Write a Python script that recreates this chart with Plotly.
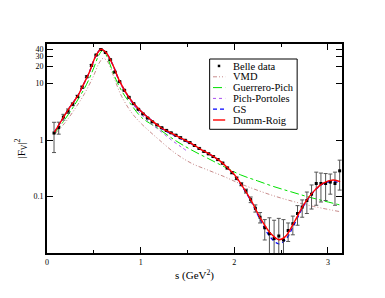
import plotly.graph_objects as go

# ---------------- data ----------------
belle_s = [0.075, 0.125, 0.175, 0.225, 0.275, 0.325, 0.375, 0.425, 0.475, 0.525,
           0.575, 0.625, 0.675, 0.725, 0.775, 0.825, 0.875, 0.925, 0.975, 1.025,
           1.075, 1.125, 1.175, 1.225, 1.275, 1.325, 1.375, 1.425, 1.475, 1.525,
           1.575, 1.625, 1.675, 1.725, 1.775, 1.825, 1.875, 1.925, 1.975, 2.025,
           2.075, 2.125, 2.175, 2.225, 2.275, 2.325, 2.375, 2.425, 2.475, 2.525,
           2.575, 2.625, 2.675, 2.725, 2.775, 2.825, 2.875, 2.925, 2.975, 3.025,
           3.075, 3.125]
belle_f2 = [1.33, 1.67, 2.55, 3.25, 4.3, 5.9, 8.6, 13.2, 21.0, 32.0,
            40.0, 35.5, 26.5, 16.0, 10.8, 7.6, 5.7, 4.4, 3.5, 2.9,
            2.45, 2.1, 1.85, 1.65, 1.48, 1.34, 1.22, 1.1, 0.99, 0.9,
            0.8, 0.71, 0.63, 0.57, 0.51, 0.45, 0.39, 0.32, 0.265, 0.21,
            0.165, 0.125, 0.088, 0.062, 0.043, 0.028, 0.022, 0.018, 0.02, 0.017,
            0.025, 0.033, 0.05, 0.065, 0.085, 0.11, 0.17, 0.17, 0.17, 0.18,
            0.17, 0.285]
belle_err = [0.73, 0.4, 0.3, 0.3, 0.25, 0.3, 0.4, 0.5, 0.7, 0.9,
             1.0, 0.9, 0.7, 0.4, 0.25, 0.18, 0.13, 0.1, 0.08, 0.06,
             0.05, 0.045, 0.04, 0.035, 0.03, 0.03, 0.03, 0.03, 0.025, 0.025,
             0.02, 0.02, 0.02, 0.018, 0.016, 0.015, 0.014, 0.012, 0.012, 0.011,
             0.01, 0.01, 0.01, 0.009, 0.009, 0.011, 0.02, 0.02, 0.021, 0.022,
             0.009, 0.012, 0.019, 0.022, 0.035, 0.05, 0.1, 0.09, 0.085, 0.07,
             0.1, 0.155]

vmd_s = [0.08, 0.2, 0.3, 0.4, 0.5, 0.55, 0.6, 0.65, 0.7, 0.75, 0.8, 0.9, 1.0, 1.1,
         1.2, 1.36, 1.54, 1.716, 1.892, 2.069, 2.42, 2.775, 3.127]
vmd_f2 = [1.25, 2.1, 3.6, 6.6, 14.0, 22.0, 28.0, 24.0, 15.0, 9.0, 5.8, 3.1, 2.0, 1.4,
          1.0, 0.6, 0.39, 0.295, 0.225, 0.167, 0.103, 0.071, 0.054]

gp_s = [0.08, 0.26, 0.42, 0.5, 0.55, 0.595, 0.64, 0.7, 0.75, 0.806, 0.9, 1.011, 1.187,
        1.363, 1.54, 1.716, 1.892, 2.069, 2.245, 2.421, 2.6, 2.775, 2.95, 3.127]
gp_f2 = [1.3, 3.4, 9.5, 19.0, 31.0, 38.5, 30.0, 16.5, 10.5, 7.0, 4.2, 2.5, 1.6,
         1.0, 0.67, 0.475, 0.337, 0.241, 0.19, 0.15, 0.122, 0.1, 0.084, 0.071]

pp_s = [0.08, 0.15, 0.24, 0.33, 0.38, 0.45, 0.52, 0.577, 0.63, 0.7, 0.77, 0.875, 0.965,
        1.05, 1.12, 1.22, 1.33, 1.43, 1.5]
pp_f2 = [1.38, 2.15, 3.75, 6.1, 9.0, 15.5, 30.5, 40.5, 35.0, 21.5, 11.0, 5.4, 3.4,
         2.4, 1.9, 1.4, 1.0, 0.76, 0.63]

gs_s = [0.08, 0.15, 0.24, 0.33, 0.38, 0.45, 0.52, 0.577, 0.63, 0.7, 0.77, 0.875, 0.965,
        1.05, 1.12, 1.22, 1.33, 1.43, 1.54, 1.65, 1.75, 1.86, 1.93, 2.0, 2.07, 2.175,
        2.28, 2.385, 2.475, 2.545, 2.635, 2.74, 2.845, 2.95, 3.055, 3.13]
gs_f2 = [1.38, 2.15, 3.75, 6.1, 9.0, 15.5, 30.5, 40.5, 35.4, 22.0, 11.5, 5.7, 3.75,
         2.75, 2.2, 1.6, 1.28, 1.05, 0.86, 0.665, 0.54, 0.405, 0.315, 0.24, 0.163, 0.085,
         0.038, 0.019, 0.0145, 0.017, 0.031, 0.068, 0.12, 0.168, 0.185, 0.17]

dr_s = [0.08, 0.15, 0.24, 0.33, 0.38, 0.45, 0.52, 0.577, 0.63, 0.7, 0.77, 0.875, 0.965,
        1.05, 1.12, 1.22, 1.33, 1.43, 1.54, 1.65, 1.75, 1.86, 1.93, 2.0, 2.07, 2.175,
        2.28, 2.385, 2.475, 2.545, 2.635, 2.74, 2.845, 2.95, 3.055, 3.13]
dr_f2 = [1.38, 2.15, 3.75, 6.1, 9.0, 15.5, 30.5, 40.5, 35.4, 22.0, 11.5, 5.7, 3.75,
         2.75, 2.2, 1.65, 1.32, 1.08, 0.875, 0.67, 0.545, 0.41, 0.32, 0.245, 0.168, 0.088,
         0.041, 0.0225, 0.0172, 0.0195, 0.034, 0.071, 0.122, 0.172, 0.196, 0.183]

legend_names = ["Belle data", "VMD", "Guerrero-Pich", "Pich-Portoles", "GS", "Dumm-Roig"]

y_tickvals = [0.1, 1, 10, 20, 30, 40]
y_ticktext = ["0.1", "1", "10", "20", "30", "40"]
x_tickvals = [0, 1, 2, 3]

# ---------------- styles ----------------
SERIF = "Liberation Serif"
styles = {
    "VMD": dict(color="rgb(200,140,140)", width=1, dash="4px,2px,1px,2px,1px,2px"),
    "Guerrero-Pich": dict(color="rgb(0,225,0)", width=1, dash="dashdot"),
    "Pich-Portoles": dict(color="rgb(170,80,240)", width=1, dash="dot"),
    "GS": dict(color="rgb(0,0,255)", width=1.3, dash="4px,3px"),
    "Dumm-Roig": dict(color="rgb(255,0,0)", width=1.4),
}

fig = go.Figure()

curves = [("VMD", vmd_s, vmd_f2), ("Guerrero-Pich", gp_s, gp_f2),
          ("Pich-Portoles", pp_s, pp_f2), ("GS", gs_s, gs_f2)]
for name, xs, ys in curves:
    fig.add_trace(go.Scatter(x=xs, y=ys, mode="lines", name=name, showlegend=False,
                             line=dict(shape="spline", **styles[name])))

fig.add_trace(go.Scatter(x=belle_s, y=belle_f2, mode="markers", name="Belle data", showlegend=False,
                         marker=dict(color="black", size=3, symbol="square"),
                         error_y=dict(type="data", array=belle_err, color="#555555",
                                      thickness=1, width=2)))
fig.add_trace(go.Scatter(x=dr_s, y=dr_f2, mode="lines", name="Dumm-Roig", showlegend=False,
                         line=dict(shape="spline", **styles["Dumm-Roig"])))

# ---------------- axes ----------------
axis_common = dict(showline=True, linecolor="black", linewidth=2, mirror="ticks",
                   ticks="inside", tickcolor="black", tickwidth=1, showgrid=False,
                   zeroline=False, tickfont=dict(family=SERIF, size=8, color="black"))

fig.update_xaxes(range=[0, 3.15], tickvals=x_tickvals, ticklen=6,
                 minor=dict(dtick=0.5, ticks="inside", ticklen=3, tickcolor="black", tickwidth=1),
                 title=dict(text="s (GeV<sup>2</sup>)", font=dict(family=SERIF, size=11, color="black"),
                            standoff=6),
                 **axis_common)
fig.update_yaxes(type="log", range=[-2, 1.7], tickvals=y_tickvals, ticktext=y_ticktext, ticklen=6,
                 title=dict(text="|F<sub>V</sub>|<sup>2</sup>", font=dict(family=SERIF, size=11, color="black"),
                            standoff=6),
                 **axis_common)

# ---------------- hand-made legend (xmgrace style) ----------------
PL, PT, PW, PH = 44, 44, 298, 209   # plot area in reference pixels


def px2x(px):
    return (px - PL) / PW


def py2y(py):
    return (PT + PH - py) / PH


shapes = [dict(type="rect", xref="paper", yref="paper",
               x0=px2x(208.3), x1=px2x(296.7), y0=py2y(129.3), y1=py2y(59),
               line=dict(color="black", width=1), fillcolor="white", layer="above")]
annotations = []
row0, row_step = 66.0, 10.8
for i, name in enumerate(legend_names):
    py = row0 + i * row_step
    if name == "Belle data":
        shapes.append(dict(type="rect", xref="paper", yref="paper",
                           x0=px2x(216.5), x1=px2x(219.0), y0=py2y(py + 1.2), y1=py2y(py - 1.3),
                           line=dict(color="black", width=0), fillcolor="black", layer="above"))
    else:
        shapes.append(dict(type="line", xref="paper", yref="paper",
                           x0=px2x(211.7), x1=px2x(224), y0=py2y(py), y1=py2y(py),
                           line=styles[name], layer="above"))
    annotations.append(dict(text=name, xref="paper", yref="paper", x=px2x(229.5), y=py2y(py),
                            xanchor="left", yanchor="middle", showarrow=False,
                            font=dict(family=SERIF, size=10.5, color="black")))

# body has an 8px default margin in the page: shift the margins to compensate
OFF = 8
fig.update_layout(
    width=385, height=298,
    margin=dict(l=PL - OFF, r=385 - PL - PW + OFF, t=PT - OFF, b=298 - PT - PH + OFF),
    paper_bgcolor="white", plot_bgcolor="white",
    showlegend=False,
    shapes=shapes, annotations=annotations,
)

fig.write_html("out.html")
